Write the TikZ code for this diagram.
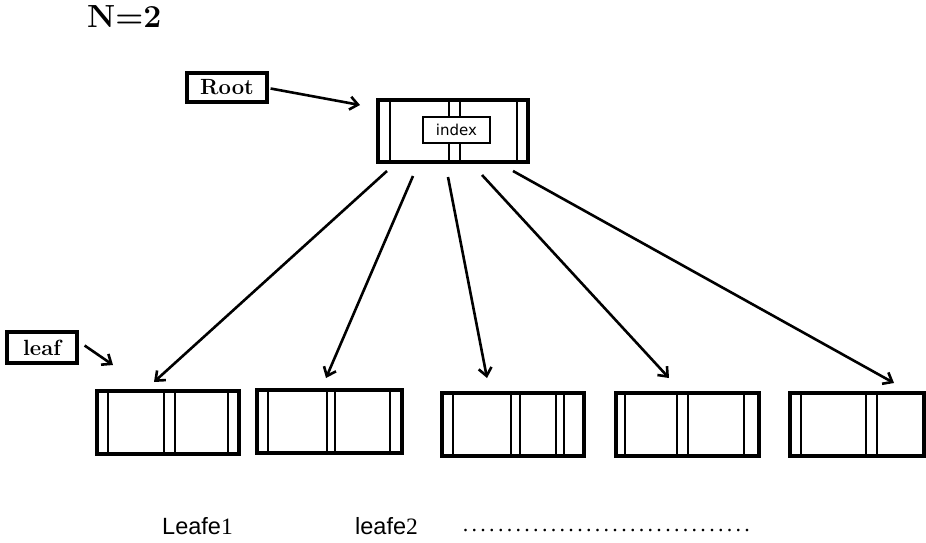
\documentclass[tikz,border=0pt]{standalone}
\usepackage{fontspec}
\newfontfamily\arialfont{Liberation Sans}
\newfontfamily\timesfont{Liberation Serif}
\newfontfamily\dejavufont{DejaVu Sans}
\usetikzlibrary{arrows.meta}

% one record of the tree: outer frame plus thin vertical dividers
\newcommand\recordbox[6]{% name, left x, top y, width, height, divider list
  \node[cell, minimum width=#4, minimum height=#5, anchor=north west] (#1) at (#2,#3) {};
  \foreach \d in {#6} \draw[divider] (\d,#3) -- ++(0,#5);
}

\begin{document}
\begin{tikzpicture}[x=1pt, y=-1pt,
  cell/.style={draw, line width=3.2pt, inner sep=0pt, outer sep=0pt},
  divider/.style={line width=1.7pt},
  link/.style={line width=2.6pt, -{Straight Barb[length=8pt, width=13pt, line width=2.6pt]}},
  tag/.style={draw, line width=3.2pt, inner sep=0pt,
    font=\bfseries\fontsize{22}{22}\selectfont},
  caption/.style={anchor=base west, inner sep=0pt, font=\fontsize{23.5}{23.5}\selectfont}
]
\useasboundingbox (0,0) rectangle (926,542);

% heading
\node[anchor=base west, inner sep=0pt] (title) at (87,27)
  {\bfseries\fontsize{32}{32}\selectfont N=2};

% labels
\node[tag, minimum width=80, minimum height=29] (roottag) at (227,87.5) {Root};
\node[tag, minimum width=70, minimum height=31] (leaftag) at (42,347.5) {leaf};

% root record with its index field
\recordbox{root}{378}{100}{150}{62}{390,449,460,517}
\node[draw, fill=white, line width=1.5pt, minimum width=67, minimum height=26,
  inner sep=0pt, font=\dejavufont\fontsize{15}{15}\selectfont] (index) at (456.5,130) {index};

% leaf records
\recordbox{l1}{97}{391}{142}{63}{108,164,175,228}
\recordbox{l2}{257}{390}{145}{63}{268,327,335,390}
\recordbox{l3}{442}{393}{142}{63}{453,511,520,556,564}
\recordbox{l4}{616}{393}{143}{63}{625,677,688,744}
\recordbox{l5}{790}{393}{134}{63}{801,866,877}

% pointers
\draw[link] ([shift={(2,1)}]roottag.east) -- ([shift={(-18,5)}]root.north west);
\coordinate (leafpoint) at ([shift={(16,-26)}]l1.north west);
\draw[link] ([shift={(6,-2)}]leaftag.east) -- (leafpoint);

\draw[link] ([shift={(9,9)}]root.south west)   -- ([shift={(57,-9)}]l1.north west);
\draw[link] ([shift={(35,14)}]root.south west)  -- ([shift={(69,-12)}]l2.north west);
\draw[link] ([shift={(70,15)}]root.south west)  -- ([shift={(45,-15)}]l3.north west);
\draw[link] ([shift={(104,13)}]root.south west) -- ([shift={(53,-15)}]l4.north west);
\draw[link] ([shift={(135,9)}]root.south west)  -- ([shift={(104,-10)}]l5.north west);

% captions under the leaves
\node[caption] (cap1) at (162,534) {\arialfont Leafe\timesfont 1};
\node[caption] (cap2) at (355,534) {\arialfont leafe\timesfont 2};
\node[caption] (capdots) at (461,531)
  {\timesfont\fontsize{22}{22}\selectfont\hbox to 290.4pt{\leaders\hbox to 8.8pt{\hss.\hss}\hfill}};
\end{tikzpicture}
\end{document}
